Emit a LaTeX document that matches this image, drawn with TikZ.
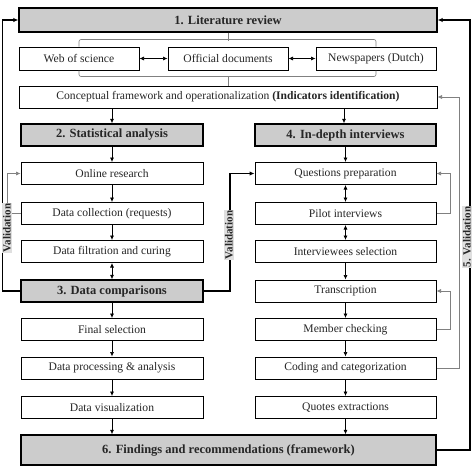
\documentclass[tikz,border=0pt]{standalone}
\usepackage{fontspec}
\setmainfont{Liberation Serif}
\usetikzlibrary{arrows.meta}
\begin{document}
\begin{tikzpicture}[x=1pt,y=-1pt,
  box/.style={draw, line width=1pt, fill=white, minimum height=22, inner sep=0,
    font=\fontsize{11.6}{13}\selectfont, text=black!85},
  lbox/.style={box, minimum width=182},
  hdr/.style={box, fill=gray!40, line width=1.4pt, font=\fontsize{12.5}{14}\selectfont\bfseries},
  arr/.style={-{Latex[length=4.5pt,width=4pt]}, line width=0.7pt},
  darr/.style={{Latex[length=4.5pt,width=4pt]}-{Latex[length=4.5pt,width=4pt]}, line width=0.7pt},
  fb/.style={-{Latex[length=4.5pt,width=4pt]}, draw=gray, line width=0.6pt},
  br/.style={draw=gray, line width=0.6pt, rounded corners=2},
  thk/.style={-{Latex[length=5pt,width=4.5pt]}, line width=1.6pt},
  vlab/.style={fill=gray!25, rotate=90, inner sep=1.2pt, font=\fontsize{11}{12}\selectfont\bfseries, text=black!85}
]
\useasboundingbox (0,0) rectangle (474,474);
\fill[white] (0,0) rectangle (474,474);

% top part
\node[hdr, minimum width=418, minimum height=24] (lit) at (228,20) {1. Literature review};
\node[box, minimum width=120, minimum height=23] (web) at (79,58.5) {Web of science};
\node[box, minimum width=120, minimum height=23] (off) at (228,58.5) {Official documents};
\node[box, minimum width=120, minimum height=23] (news) at (376,58.5) {Newspapers (Dutch)};
\node[box, minimum width=418] (conc) at (228,97) {Conceptual framework and operationalization \textbf{(Indicators identification)}};

% left column
\node[hdr, minimum width=182] (stat) at (112,135) {2. Statistical analysis};
\node[lbox] (or) at (112,173.5) {Online research};
\node[lbox] (dc) at (112,213.5) {Data collection (requests)};
\node[lbox] (filt) at (112,251.5) {Data filtration and curing};
\node[hdr, minimum width=182] (comp) at (112,291) {3. Data comparisons};
\node[lbox] (fin) at (112,329.5) {Final selection};
\node[lbox] (proc) at (112,368) {Data processing \& analysis};
\node[lbox] (vis) at (112,407.5) {Data visualization};

% right column
\node[hdr, minimum width=181] (ind) at (345.5,135) {4. In-depth interviews};
\node[lbox, minimum width=181] (qp) at (345.5,173.5) {Questions preparation};
\node[lbox, minimum width=181] (pil) at (345.5,213.5) {Pilot interviews};
\node[lbox, minimum width=181] (iv) at (345.5,251.5) {Interviewees selection};
\node[lbox, minimum width=181] (tr) at (345.5,291) {Transcription};
\node[lbox, minimum width=181] (mem) at (345.5,329.5) {Member checking};
\node[lbox, minimum width=181] (cod) at (345.5,368) {Coding and categorization};
\node[lbox, minimum width=181] (quo) at (345.5,407.5) {Quotes extractions};

% findings
\node[hdr, minimum width=415, minimum height=30] (find) at (228.5,450) {6. Findings and recommendations (framework)};

% brackets
\draw[br] (web.north) -- ++(0,-7) -| (news.north);
\draw[br] (lit.south) -- ++(0,8);
\draw[br] (web.south) -- ++(0,6) -| (news.south);
\draw[br] (off.south) ++(0,6) -- (conc.north);
\draw[darr] (web) -- (off);
\draw[darr] (off) -- (news);

% left column arrows
\draw[arr] (conc.south -| stat) -- (stat);
\draw[arr] (stat) -- (or);
\draw[arr] (or) -- (dc);
\draw[arr] (dc) -- (filt);
\draw[darr] (filt) -- (comp);
\draw[arr] (comp) -- (fin);
\draw[arr] (fin) -- (proc);
\draw[arr] (proc) -- (vis);
\draw[arr] (vis) -- (vis |- find.north);

% right column arrows
\draw[arr] (conc.south -| 344,0) -- (ind.north -| 344,0);
\draw[arr] (ind) -- (qp);
\draw[darr] (qp) -- (pil);
\draw[darr] (pil) -- (iv);
\draw[arr] (iv) -- (tr);
\draw[arr] (tr) -- (mem);
\draw[arr] (mem) -- (cod);
\draw[arr] (cod) -- (quo);
\draw[arr] (quo) -- (quo |- find.north);

% feedback loops
\draw[fb] (dc.west) -- ++(-13,0) |- (or.west);
\draw[fb] (pil.east) -- ++(14,0) |- (qp.east);
\draw[fb] (mem.east) -- ++(14,0) |- (tr.east);
\draw[fb] (cod.east) -- ++(23,0) |- (conc.east);

% validation lines
\draw[thk] (comp.west) -- ++(-18,0) |- (lit.west);
\draw[thk] (comp.east) -- ++(26,0) |- (qp.west);
\draw[thk] (find.east) -- ++(33,0) |- (lit.east);
\node[vlab] (vl) at (7,228) {Validation};
\node[vlab] (vm) at (229,235) {Validation};
\node[vlab] (vr) at (467,237) {5. Validation};
\end{tikzpicture}
\end{document}
